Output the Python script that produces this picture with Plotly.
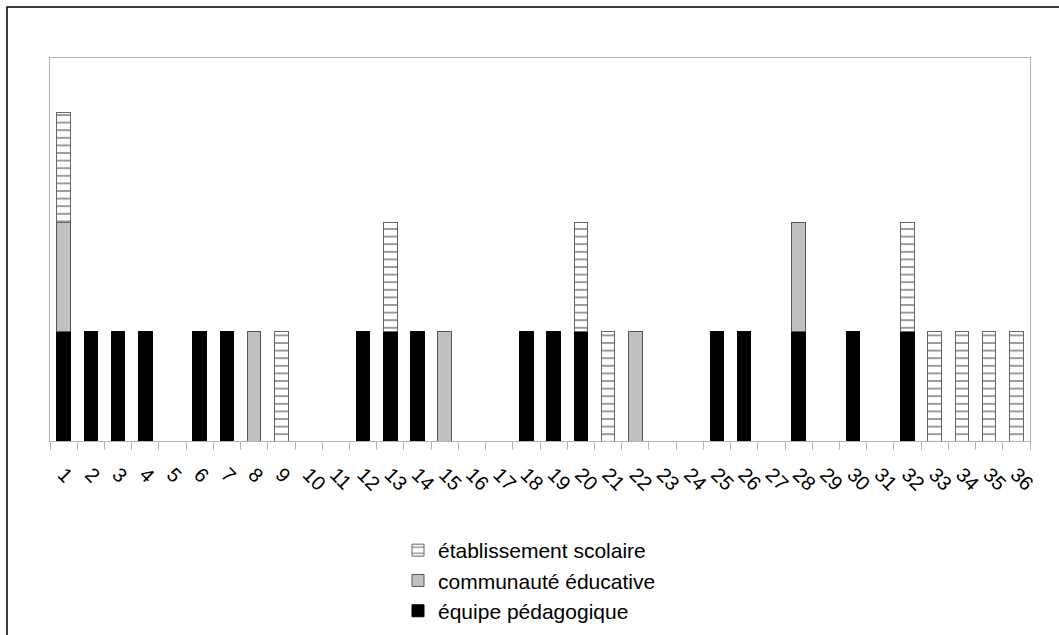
import plotly.graph_objects as go

categories = [str(i) for i in range(1, 37)]

equipe_ids = [1, 2, 3, 4, 6, 7, 12, 13, 14, 18, 19, 20, 25, 26, 28, 30, 32]
communaute_ids = [1, 8, 15, 22, 28]
etablissement_ids = [1, 9, 13, 20, 21, 32, 33, 34, 35, 36]

equipe = [1 if i in equipe_ids else 0 for i in range(1, 37)]
communaute = [1 if i in communaute_ids else 0 for i in range(1, 37)]
etablissement = [1 if i in etablissement_ids else 0 for i in range(1, 37)]

names = ["équipe pédagogique", "communauté éducative", "établissement scolaire"]

fig = go.Figure()
fig.add_trace(go.Bar(x=categories, y=[v if v else None for v in equipe], name=names[0],
                     marker=dict(color="black", line=dict(color="black", width=1))))
fig.add_trace(go.Bar(x=categories, y=[v if v else None for v in communaute], name=names[1],
                     marker=dict(color="#c0c0c0", line=dict(color="#555555", width=1))))
fig.add_trace(go.Bar(x=categories, y=[v if v else None for v in etablissement], name=names[2],
                     marker=dict(color="white", line=dict(color="#666666", width=1),
                                 pattern=dict(shape="-", fgcolor="black", bgcolor="white",
                                              size=7.6, solidity=0.2))))

W, H = 1059, 635
L, R, T, B = 50, 1030, 58, 441
pw, ph = R - L, B - T

def px(x):
    return (x - L) / pw

def py(y):
    return (B - y) / ph

fig.update_layout(
    width=W, height=H,
    margin=dict(l=L, r=W - R, t=T, b=H - B, autoexpand=False),
    barmode="stack", bargap=0.5,
    plot_bgcolor="white", paper_bgcolor="white",
    font=dict(family="Liberation Sans, Arial, sans-serif", color="black"),
    showlegend=True,
    legend=dict(traceorder="reversed", orientation="v",
                xref="container", yref="container",
                x=398 / W, xanchor="left", y=1 - 530 / H, yanchor="top",
                font=dict(size=21), tracegroupgap=0, itemwidth=30,
                bgcolor="rgba(0,0,0,0)"),
    xaxis=dict(type="category", tickson="boundaries", ticks="outside", ticklen=8,
               tickcolor="#b3b3b3", tickangle=45, tickfont=dict(size=20),
               showline=True, linecolor="#b3b3b3", mirror=True, showgrid=False,
               ticklabelstandoff=13, automargin=False),
    yaxis=dict(range=[0, 3.5], showticklabels=False, ticks="", showgrid=False,
               showline=True, linecolor="#b3b3b3", mirror=True, zeroline=False,
               automargin=False),
    shapes=[dict(type="rect", xref="paper", yref="paper",
                 x0=px(7), x1=px(1075), y0=py(660), y1=py(7),
                 line=dict(color="black", width=1.5), fillcolor="rgba(0,0,0,0)")],
)

fig.write_html("out.html", config={"displayModeBar": False},
               post_script="document.body.style.margin='0';document.body.style.overflow='hidden';")
